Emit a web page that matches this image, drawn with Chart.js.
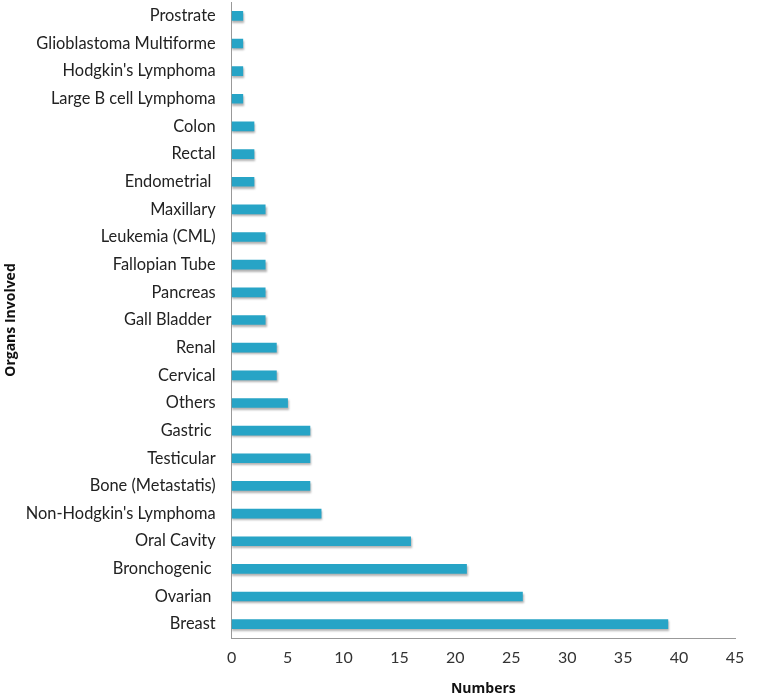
<!DOCTYPE html>
<html>
<head>
<meta charset="utf-8">
<script src="https://cdn.jsdelivr.net/npm/chart.js@4"></script>
<style>
  body { margin: 0; background: #fff; }
</style>
</head>
<body>
<canvas id="organChart" width="781" height="699"></canvas>
<script>
const organs = [
    'Prostrate', 'Glioblastoma Multiforme', "Hodgkin's Lymphoma", 'Large B cell Lymphoma',
    'Colon', 'Rectal', 'Endometrial ', 'Maxillary', 'Leukemia (CML)', 'Fallopian Tube',
    'Pancreas', 'Gall Bladder ', 'Renal', 'Cervical', 'Others', 'Gastric ', 'Testicular',
    'Bone (Metastatis)', "Non-Hodgkin's Lymphoma", 'Oral Cavity', 'Bronchogenic ', 'Ovarian ', 'Breast'
];
const numbers = [1, 1, 1, 1, 2, 2, 2, 3, 3, 3, 3, 3, 4, 4, 5, 7, 7, 7, 8, 16, 21, 26, 39];
const xTicks = [0, 5, 10, 15, 20, 25, 30, 35, 40, 45];

// soft drop shadow under the bars, like the original
const barShadow = {
    id: 'barShadow',
    beforeDatasetsDraw(chart) {
        const ctx = chart.ctx;
        ctx.save();
        ctx.shadowColor = 'rgba(0,0,0,0.3)';
        ctx.shadowOffsetX = 1;
        ctx.shadowOffsetY = 2;
        ctx.shadowBlur = 2;
    },
    afterDatasetsDraw(chart) {
        chart.ctx.restore();
    }
};

const ctx = document.getElementById('organChart').getContext('2d');
new Chart(ctx, {
    type: 'bar',
    data: {
        labels: organs,
        datasets: [{
            data: numbers,
            backgroundColor: '#27a4c6',
            barThickness: 9
        }]
    },
    plugins: [barShadow],
    options: {
        indexAxis: 'y',
        responsive: false,
        animation: false,
        layout: { padding: { top: 2, right: 46, bottom: 2, left: 0 } },
        plugins: {
            legend: { display: false },
            tooltip: { enabled: false }
        },
        scales: {
            x: {
                min: 0,
                max: 45,
                afterBuildTicks: axis => { axis.ticks = xTicks.map(v => ({ value: v })); },
                grid: { display: false, drawTicks: true, tickLength: 6, color: '#999' },
                border: { color: '#999' },
                ticks: { color: '#333', font: { family: 'Lato', size: 16 }, padding: 4 },
                title: {
                    display: true, text: 'Numbers', color: '#111',
                    font: { family: 'Open Sans', size: 14, weight: 'bold' }, padding: { top: 9, bottom: 0 }
                }
            },
            y: {
                grid: { display: false, drawTicks: false },
                border: { color: '#999' },
                ticks: { color: '#222', font: { family: 'Lato', size: 16.4 }, padding: 16, autoSkip: false },
                afterFit: axis => {
                    axis.paddingTop = 0;
                    axis.paddingBottom = 0;
                    axis.width -= 10;
                },
                title: {
                    display: true, text: 'Organs Involved', color: '#111',
                    font: { family: 'Open Sans', size: 14, weight: 'bold' }, padding: { top: 3, bottom: 0 }
                }
            }
        }
    }
});
</script>
</body>
</html>
